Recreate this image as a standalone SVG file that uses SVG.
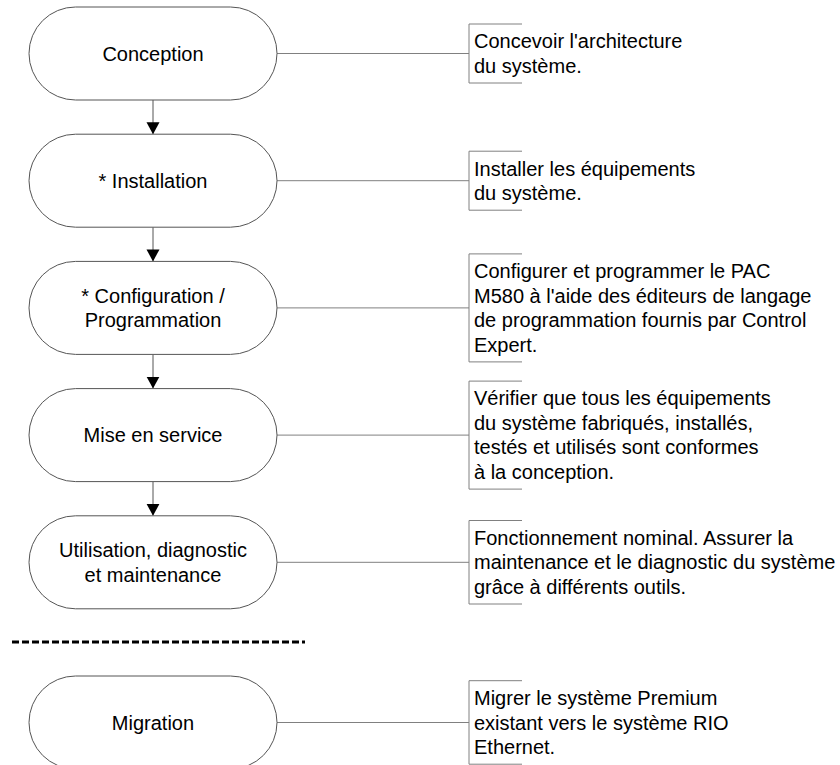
<svg xmlns="http://www.w3.org/2000/svg" width="840" height="765" viewBox="0 0 840 765">
<style>
.node{fill:#fff;stroke:#555;stroke-width:1}
.nt{font-family:"Liberation Sans",Arial,sans-serif;font-size:20px;fill:#000;text-anchor:middle}
.dt{font-family:"Liberation Sans",Arial,sans-serif;font-size:20px;fill:#000}
.link{stroke:#808080;stroke-width:1;fill:none}
.br{stroke:#808080;stroke-width:1;fill:none}
.arr{stroke:#555;stroke-width:1;fill:none}
</style>
<defs>
<marker id="ah" markerUnits="userSpaceOnUse" markerWidth="14" markerHeight="14" refX="12" refY="6.5" orient="auto">
<path d="M0,0 L12,6.5 L0,13 z" fill="#000"/>
</marker>
</defs>
<rect width="840" height="765" fill="#fff"/>
<g id="connectors">
<line class="arr" x1="153" y1="100" x2="153" y2="134.2" marker-end="url(#ah)"/>
<line class="arr" x1="153" y1="227.2" x2="153" y2="261.4" marker-end="url(#ah)"/>
<line class="arr" x1="153" y1="354.4" x2="153" y2="388.6" marker-end="url(#ah)"/>
<line class="arr" x1="153" y1="481.6" x2="153" y2="515.8" marker-end="url(#ah)"/>
<line class="link" x1="277" y1="53.5" x2="469" y2="53.5"/>
<line class="link" x1="277" y1="180.7" x2="469" y2="180.7"/>
<line class="link" x1="277" y1="307.9" x2="469" y2="307.9"/>
<line class="link" x1="277" y1="435.1" x2="469" y2="435.1"/>
<line class="link" x1="277" y1="562.3" x2="469" y2="562.3"/>
<line class="link" x1="277" y1="722.5" x2="469" y2="722.5"/>
</g>
<line id="separator" x1="12" y1="642" x2="305" y2="642" stroke="#000" stroke-width="3" stroke-dasharray="7 3"/>
<g id="n1">
<rect class="node" x="29" y="7" width="248" height="93" rx="46.5"/>
<text class="nt" x="153" y="60.5">Conception</text>
</g>
<g id="n2">
<rect class="node" x="29" y="134.2" width="248" height="93" rx="46.5"/>
<text class="nt" x="153" y="187.7">* Installation</text>
</g>
<g id="n3">
<rect class="node" x="29" y="261.4" width="248" height="93" rx="46.5"/>
<text class="nt" x="153" y="302.7">* Configuration /</text>
<text class="nt" x="153" y="327.2">Programmation</text>
</g>
<g id="n4">
<rect class="node" x="29" y="388.6" width="248" height="93" rx="46.5"/>
<text class="nt" x="153" y="442.1">Mise en service</text>
</g>
<g id="n5">
<rect class="node" x="29" y="515.8" width="248" height="93" rx="46.5"/>
<text class="nt" x="153" y="557.1">Utilisation, diagnostic</text>
<text class="nt" x="153" y="581.6">et maintenance</text>
</g>
<g id="n6">
<rect class="node" x="29" y="676" width="248" height="93" rx="46.5"/>
<text class="nt" x="153" y="729.5">Migration</text>
</g>
<g id="d1">
<path class="br" d="M522,24 H469 V83 H522"/>
<text class="dt" x="474" y="48.3">Concevoir l'architecture</text>
<text class="dt" x="474" y="72.8">du système.</text>
</g>
<g id="d2">
<path class="br" d="M522,151.2 H469 V210.2 H522"/>
<text class="dt" x="474" y="175.5">Installer les équipements</text>
<text class="dt" x="474" y="200">du système.</text>
</g>
<g id="d3">
<path class="br" d="M522,253.9 H469 V361.9 H522"/>
<text class="dt" x="474" y="278.2">Configurer et programmer le PAC</text>
<text class="dt" x="474" y="302.7">M580 à l'aide des éditeurs de langage</text>
<text class="dt" x="474" y="327.2">de programmation fournis par Control</text>
<text class="dt" x="474" y="351.7">Expert.</text>
</g>
<g id="d4">
<path class="br" d="M522,381.1 H469 V489.1 H522"/>
<text class="dt" x="474" y="405.4">Vérifier que tous les équipements</text>
<text class="dt" x="474" y="429.9">du système fabriqués, installés,</text>
<text class="dt" x="474" y="454.4">testés et utilisés sont conformes</text>
<text class="dt" x="474" y="478.9">à la conception.</text>
</g>
<g id="d5">
<path class="br" d="M522,520.5 H469 V604 H522"/>
<text class="dt" x="474" y="544.8">Fonctionnement nominal. Assurer la</text>
<text class="dt" x="474" y="569.3">maintenance et le diagnostic du système</text>
<text class="dt" x="474" y="593.8">grâce à différents outils.</text>
</g>
<g id="d6">
<path class="br" d="M522,680.7 H469 V764.2 H522"/>
<text class="dt" x="474" y="705">Migrer le système Premium</text>
<text class="dt" x="474" y="729.5">existant vers le système RIO</text>
<text class="dt" x="474" y="754">Ethernet.</text>
</g>
</svg>
